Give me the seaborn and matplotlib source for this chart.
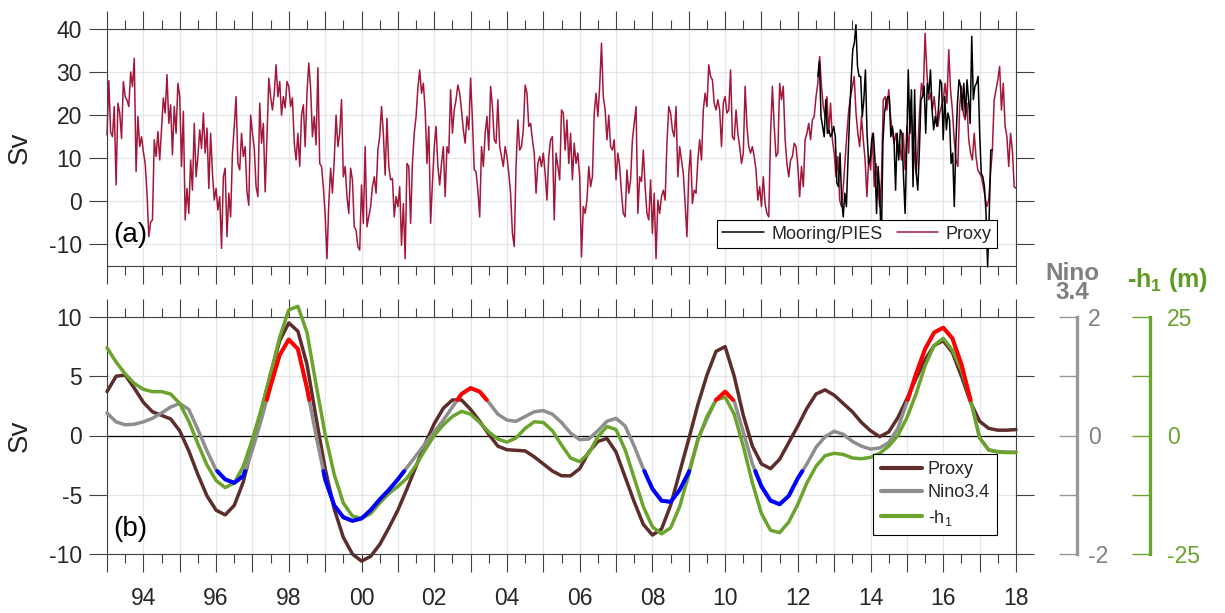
import numpy as np
import matplotlib
matplotlib.use("Agg")
import matplotlib.pyplot as plt
import seaborn as sns
from matplotlib.ticker import FixedLocator
from matplotlib.lines import Line2D

# ---------------- data ----------------
# (a) transport proxy, regular sampling from 1993.0 to 2018.0 (20 samples / yr)
proxy_start, proxy_end = 1993.0, 2018.0
proxy_sv = [
    15.4, 28, 16, 15, 22, 3.8, 22.8, 20.5, 14.6, 27.8, 24.3, 23.5, 22, 30, 26.7, 33.2, 6.9, 19.7, 12.7, 15,
    11.5, 8.8, 1.9, -8.2, -4.8, -4.3, 14.3, 10.4, 16.2, 9.6, 16.6, 24, 20.5, 29.4, 18.1, 22.4, 10.8, 22, 15.8, 27.4,
    24.3, 8.1, 20.9, -4.3, 3, -2.8, 9.6, 2.6, 18.1, 5.7, 10.4, 16.6, 12.3, 20.5, 11.2, 17, 3, 15.8, 6.5, 0.3,
    3, -2, 1.1, -10.9, 5.7, 7.7, -8.2, 1.9, -3.6, 11.2, 17.4, 24.3, 8.8, 7.3, 15.8, 10.4, 12.7, 2.2, -0.9, 20,
    15.8, 12.3, 3.4, 1.1, 22.8, 13.5, 18.1, 2.2, 15, 28.6, 24.3, 21.2, 25.1, 31.7, 24.3, 27.8, 20, 24.3, 21.7, 27.8,
    26.7, 22, 24, 13.5, 9.6, 15.8, 8.1, 20, 22.4, 12.7, 25.1, 32.1, 26.3, 15, 19.7, 13.1, 31, 8.8, 8.1, 3.4,
    -3.2, -13.3, -0.5, 7.7, 1.9, 9.6, 20, 12.7, 15.8, 23.6, 5.7, 8.1, 1.1, -2.8, 7.7, 5, -5.9, -6.7, -10.5, -11.3,
    3.8, -5.1, 12.7, -5.9, -3.6, -1.2, 3.4, 5.7, 1.9, 11.9, 15, 22, 15.8, 6.1, 19.3, 8.1, 5, 5.3, -3.6, 1.1,
    -1.2, 3.4, -10.2, -0.5, -13.3, 8.8, 8.1, -5.1, 8.8, 15.8, 19.7, 26.3, 30.5, 25.1, 27.4, 21.2, 8.8, 17.4, -5.1, 4.2,
    12.7, 17.4, 8.1, 3.8, 8.8, 12.7, 1.1, 12.7, 11.2, 25.9, 15.8, 21.2, 23.6, 27, 25.1, 21.2, 16.6, 13.5, 19.7, 16.6,
    28.6, 18.9, 7.3, 6.9, 2.6, -3.6, 12.7, 8.1, 15.8, 19.7, 11.9, 26.7, 22, 14.3, 13.5, 23.6, 12.7, 10.4, 8.1, 12.7,
    10.4, 6.5, 1.9, -7.4, -10.5, 8.1, 18.9, 11.9, 12.7, 16.6, 27, 25.1, 17.4, 18.1, 14.3, 11.2, 1.9, 8.8, 10.4, 8.1,
    11.2, 6.5, 0.3, 10.4, 14.3, 15, -4.3, 11.2, 8.1, 5, 21.2, 20.5, 11.9, 18.9, 8.8, 15.8, 5, 13.5, 8.8, 11.2,
    5.7, -12.9, -1.2, -2.8, 0.3, 8.1, 3.4, 5.7, 20.5, 25.1, 19.7, 26.7, 36.7, 24.3, 21.2, 14.3, 20, 12.7, 11.9, 14.3,
    5, 11.2, 8.1, 1.9, -2.8, -3.6, 7.3, 1.9, 5, 14.3, 18.1, 22, -2.8, 5.7, 4.6, 11.9, 3.4, -2.8, -4.3, 5,
    -7.4, 1.9, -13.3, 0.3, -2.8, 1.1, 2.6, 0.3, 13.5, 22, 20.5, 16.6, 15, 22, 5.7, 12.7, 9.6, 6.5, -0.5, -8.2,
    6.5, 11.9, -0.5, 2.6, 1.9, 9.6, 14.3, 9.6, 21.2, 25.1, 22, 31.7, 29, 28.2, 22.8, 21.2, 23.6, 21.2, 12.7, 22.8,
    24.3, 20.5, 21.2, 30.5, 15, 14.3, 21.2, 15.8, 12.7, 8.8, 11.2, 26.7, 17.4, 12.7, 11.2, 12.7, 10.4, 7.3, 0.3, 3.4,
    -1.2, 5.7, -0.5, -2.8, -3.6, 15.8, 26.7, 17.4, 10.4, 11.2, 27.4, 23.6, 26.7, 14.3, 8.8, 5.7, 9.6, 10.4, 13.5, 12.7,
    8.1, 1.1, 8.1, 3.4, 14.3, 15.8, 18.1, 14.3, 18.9, 19.7, 24.3, 27.4, 33.6, 26.7, 22, 19.7, 24.3, 15.8, 22.8, 14.3,
    11.2, 5.7, 10.4, 0.3, -1.2, 3.4, 9.6, 15.8, 21.2, 24.3, 26.7, 29, 20.5, 15.8, 12.7, 19.7, 14.3, 9.6, 1.1, 10.4,
    7.3, 15.8, 3.4, 8.8, 3.4, -1.2, 5, 23.6, 24.3, 21.2, 25.9, 19.7, 15.8, 13.5, 15.8, 11.9, 13.5, 9.6, 15.8, 7.3,
    17.4, 11.2, 23.6, 16.6, 11.2, 6.5, 11.9, 21.2, 27.4, 25.1, 39, 29.8, 23.6, 25.1, 21.2, 24.3, 19.7, 17.4, 20.5, 22,
    23.6, 27.4, 22.8, 35.2, 25.9, 21.2, 14.3, 9.6, 8.1, 22, 26.7, 20.5, 18.9, 22.8, 14.3, 11.2, 9.6, 15.8, 10.4, 7.3,
    6.5, 5.7, 3.4, 1.1, -1.2, 0.3, 6.5, 11.9, 23.6, 25.9, 28.2, 31.3, 21.2, 27.4, 17.4, 15, 8.1, 15.8, 11.9, 3.4,
    3.0,
]

# (a) mooring / PIES transport, regular sampling 2012.55 .. 2017.35
mooring_start, mooring_end = 2012.55, 2017.35
mooring_sv = [
    29, 32.5, 19.7, 17.4, 15, 23.6, 15.8, 16.6, 15, 15.8, 17.4, 15, 4.2, 3.4, 11.2, 0.3, -3.6, 1.9, -1.2, 9.6,
    19.7, 28.2, 35.2, 36.7, 41, 31.3, 29, 29, 19.7, 23.6, 30.5, 15.8, 8.8, 9.6, 14.3, 15.8, 9.6, -2.8, 8.1, 1.9,
    -10.5, 13.5, 20.5, 22.8, 24.3, 24.3, 15, 17.4, 14.3, 2.6, 15.8, 9.6, 16.6, 15.8, 5.7, -2.8, 12.7, 30.5, 15.8, 25.9,
    3.4, 25.9, 6.5, 2.6, 11.9, 23.6, 24.3, 26.7, 15.8, 27.4, 25.1, 30.5, 21.2, 16.6, 19.7, 17.4, 21.2, 28.2, 27.4, 14.3,
    24.3, 16.6, 20.5, 18.9, 8.8, 11.2, -1.2, 13.5, 22.8, 28.2, 26.7, 21.2, 27.4, 19.7, 28.2, 23.6, 18.1, 38.3, 23.6, 26.7,
    27.4, 29, 15.8, 6.5, 5.7, 3.4, -2.8, -15.2, -3.6, 11.9, 11.9,
]

# (b) low-passed series, quarterly samples 1993.00 .. 2018.00
lp_start, lp_step = 1993.0, 0.25
proxy_lp_sv = [
    3.7, 5.0, 5.1, 4.0, 2.8, 2.0, 1.7, 1.4, 0.4, -1.3, -3.3, -5.1, -6.3, -6.7, -5.9, -3.9, -0.8, 2.2, 5.2, 8.0,
    9.5, 8.8, 6.0, 1.5, -2.8, -6.2, -8.6, -10.0, -10.6, -10.2, -9.2, -7.8, -6.3, -4.5, -2.6, -0.7, 1.0, 2.3, 3.0, 3.0,
    2.2, 1.2, 0.1, -0.9, -1.2, -1.25, -1.3, -1.8, -2.4, -3.0, -3.4, -3.4, -2.8, -1.4, -0.5, -0.25, -1.4, -3.5, -5.6, -7.5,
    -8.4, -7.9, -5.9, -3.1, -0.3, 2.6, 5.1, 7.1, 7.5, 5.0, 1.7, -0.9, -2.4, -2.8, -2.0, -0.6, 0.8, 2.3, 3.5, 3.85,
    3.4, 2.7, 2.0, 1.1, 0.4, -0.1, 0.3, 1.5, 3.1, 4.8, 6.4, 7.6, 8.0, 7.0, 5.0, 2.8, 1.2, 0.6, 0.45, 0.45,
    0.5,
]
nino34_c = [
    0.38, 0.23, 0.18, 0.19, 0.23, 0.29, 0.38, 0.48, 0.54, 0.44, 0.10, -0.26, -0.58, -0.74, -0.80, -0.68, -0.24, 0.28, 0.84, 1.36,
    1.62, 1.46, 0.80, 0.0, -0.74, -1.18, -1.38, -1.44, -1.40, -1.26, -1.08, -0.92, -0.74, -0.54, -0.34, -0.14, 0.06, 0.26, 0.48, 0.70,
    0.80, 0.74, 0.56, 0.36, 0.26, 0.24, 0.32, 0.40, 0.42, 0.36, 0.22, 0.04, -0.07, -0.06, 0.08, 0.24, 0.29, 0.16, -0.18, -0.56,
    -0.90, -1.10, -1.12, -0.92, -0.62, -0.06, 0.28, 0.60, 0.74, 0.58, 0.06, -0.48, -0.86, -1.10, -1.16, -1.02, -0.72, -0.48, -0.20, -0.02,
    0.07, 0.02, -0.10, -0.18, -0.23, -0.21, -0.12, 0.12, 0.56, 1.04, 1.46, 1.74, 1.82, 1.64, 1.20, 0.60, -0.04, -0.24, -0.27, -0.28,
    -0.28,
]
neg_h1_m = [
    18.5, 15.5, 13.0, 11.0, 9.75, 9.25, 9.25, 8.75, 6.75, 3.0, -1.75, -6.25, -9.5, -11.0, -10.0, -6.5, -0.75, 5.75, 13.0, 20.75,
    26.5, 27.25, 21.75, 10.75, 0.25, -8.25, -14.25, -17.0, -17.5, -16.5, -14.25, -12.25, -10.75, -9.0, -6.25, -3.0, 0.0, 2.25, 4.0, 5.1,
    4.5, 2.75, 0.75, -0.75, -1.4, -0.5, 1.5, 2.9, 2.75, 1.0, -2.0, -4.75, -5.5, -3.75, -0.25, 1.9, 1.25, -3.0, -9.0, -15.0,
    -19.25, -20.75, -19.5, -15.0, -8.25, -1.0, 4.0, 7.5, 8.1, 4.5, -2.25, -10.0, -16.5, -20.0, -20.5, -18.25, -14.5, -10.0, -6.5, -4.25,
    -3.75, -4.0, -4.75, -4.9, -4.6, -3.75, -2.25, 0.0, 3.75, 8.75, 14.75, 19.0, 20.5, 18.0, 13.75, 7.5, -0.5, -3.1, -3.5, -3.6,
    -3.6,
]
nino_threshold = 0.6  # El Nino / La Nina highlight level (deg C)

years = list(range(1993, 2019))
year_labels = [f"{y % 100:02d}" if y % 2 == 0 else "" for y in years]

# ---------------- style ----------------
sns.set_style("ticks")
plt.rcParams['font.family'] = ['Liberation Sans', 'DejaVu Sans']
plt.rcParams['mathtext.fontset'] = 'custom'
plt.rcParams['mathtext.rm'] = 'Liberation Sans'
plt.rcParams['mathtext.it'] = 'Liberation Sans:italic'
plt.rcParams['mathtext.bf'] = 'Liberation Sans:bold'
plt.rcParams['axes.unicode_minus'] = False

C_PROXY_A = '#A3173B'
C_MOOR = '#000000'
C_BROWN = '#5C2D2B'
C_GRAY = '#8E8E8E'
C_GREEN = '#6BA42C'
C_AX = '#404040'
C_TXT = '#262626'
LW_LP = 2.5

W, H = 1225, 613
fig = plt.figure(figsize=(W / 100, H / 100), dpi=100)
L, R = 107, 1016
ax1 = fig.add_axes([L / W, 1 - 266 / H, (R - L) / W, 237 / H])
ax2 = fig.add_axes([L / W, 1 - 554 / H, (R - L) / W, 237 / H])

# ---------------- panel (a) ----------------
t_proxy = np.linspace(proxy_start, proxy_end, len(proxy_sv))
t_moor = np.linspace(mooring_start, mooring_end, len(mooring_sv))
sns.lineplot(x=t_proxy, y=proxy_sv, ax=ax1, color=C_PROXY_A, linewidth=1.1,
             estimator=None, sort=False, legend=False)
sns.lineplot(x=t_moor, y=mooring_sv, ax=ax1, color=C_MOOR, linewidth=1.1,
             estimator=None, sort=False, legend=False)
for ln in ax1.lines:
    ln.set_clip_on(False)
ax1.set_ylim(-15, 40)
ax1.set_yticks([-10, 0, 10, 20, 30, 40])
ax1.set_yticklabels(['-10', '0', '10', '20', '30', '40'])

# ---------------- panel (b) ----------------
t_lp = lp_start + lp_step * np.arange(len(proxy_lp_sv))
assert len(proxy_lp_sv) == len(nino34_c) == len(neg_h1_m) == 101

ax2.axhline(0, color='black', linewidth=0.9, zorder=1)
sns.lineplot(x=t_lp, y=proxy_lp_sv, ax=ax2, color=C_BROWN, linewidth=LW_LP,
             estimator=None, sort=False, legend=False, solid_joinstyle='round', solid_capstyle='round')
ax2.set_ylim(-10, 10)
ax2.set_yticks([-10, -5, 0, 5, 10])
ax2.set_yticklabels(['-10', '-5', '0', '5', '10'])

axn = ax2.twinx()
axn.set_ylim(-2, 2)
sns.lineplot(x=t_lp, y=nino34_c, ax=axn, color=C_GRAY, linewidth=LW_LP,
             estimator=None, sort=False, legend=False, solid_joinstyle='round', solid_capstyle='round')

axh = ax2.twinx()
axh.set_ylim(-25, 25)
sns.lineplot(x=t_lp, y=neg_h1_m, ax=axh, color=C_GREEN, linewidth=LW_LP,
             estimator=None, sort=False, legend=False, solid_joinstyle='round', solid_capstyle='round')

axr = ax2.twinx()
axr.set_ylim(-2, 2)
axr.axis('off')


def split_segments(t, v, thr, above):
    s = (v - thr) if above else (-thr - v)
    segs, cur = [], None
    for i in range(len(t)):
        if s[i] >= 0:
            if cur is None:
                cur = []
                if i > 0 and s[i - 1] < 0:
                    f = s[i - 1] / (s[i - 1] - s[i])
                    cur.append((t[i - 1] + f * (t[i] - t[i - 1]), v[i - 1] + f * (v[i] - v[i - 1])))
            cur.append((t[i], v[i]))
        else:
            if cur is not None:
                f = s[i - 1] / (s[i - 1] - s[i])
                cur.append((t[i - 1] + f * (t[i] - t[i - 1]), v[i - 1] + f * (v[i] - v[i - 1])))
                segs.append(np.array(cur))
                cur = None
    if cur is not None:
        segs.append(np.array(cur))
    return segs


nino_arr = np.array(nino34_c)
for seg in split_segments(t_lp, nino_arr, nino_threshold, True):
    sns.lineplot(x=seg[:, 0], y=seg[:, 1], ax=axr, color='#FF0000', linewidth=2.9,
                 estimator=None, sort=False, legend=False, solid_joinstyle='round')
for seg in split_segments(t_lp, nino_arr, nino_threshold, False):
    sns.lineplot(x=seg[:, 0], y=seg[:, 1], ax=axr, color='#0000FF', linewidth=2.9,
                 estimator=None, sort=False, legend=False, solid_joinstyle='round')
for a in (ax2, axn, axh, axr):
    for ln in a.lines:
        ln.set_clip_on(False)
axr.set_xlim(1993, 2018)

# side axes for Nino3.4 and -h1
for a, pos, col, lcol, ticks, labels, pad in (
        (axn, (1077 - L) / (R - L), '#999999', '#808080', [-2, -1, 0, 1, 2], ['-2', '', '0', '', '2'], 8),
        (axh, (1150 - L) / (R - L), C_GREEN, C_GREEN, [-25, -12.5, 0, 12.5, 25], ['-25', '', '0', '', '25'], 12)):
    for side in ('left', 'top', 'bottom'):
        a.spines[side].set_visible(False)
    a.spines['right'].set_position(('axes', pos))
    a.spines['right'].set_color(col)
    a.spines['right'].set_linewidth(2.4)
    a.set_yticks(ticks)
    a.set_yticklabels(labels)
    a.tick_params(axis='y', which='both', direction='in', length=13, width=1.0,
                  color=col, labelcolor=lcol, labelsize=16.5, pad=pad, right=True, left=False)
    a.set_ylabel('')

fig.text(1072 / W, 1 - 283 / H, 'Nino\n3.4', ha='center', va='center', fontsize=17.5,
         fontweight='bold', color='#7F7F7F', linespacing=0.8)
fig.text(1167 / W, 1 - 280 / H, r'-h$_\mathbf{1}$ (m)', ha='center', va='center', fontsize=18,
         fontweight='bold', color='#5E9B20')

# ---------------- common axes styling ----------------
for ax in (ax1, ax2):
    ax.set_xlim(1993, 2018)
    ax.xaxis.set_major_locator(FixedLocator(years))
    ax.xaxis.set_minor_locator(FixedLocator([y + 0.5 for y in years[:-1]]))
    ax.tick_params(axis='both', which='major', direction='out', length=13, width=0.8,
                   color=C_AX, labelcolor=C_TXT, labelsize=16.5)
    ax.tick_params(axis='x', which='minor', direction='out', length=6.5, width=0.8, color=C_AX)
    ax.tick_params(axis='x', which='both', top=True, bottom=True)
    ax.tick_params(axis='y', which='both', left=True, right=True, pad=5)
    ax.tick_params(axis='x', pad=11)
    ax.grid(True, which='major', color='#E6E6E6', linewidth=0.9)
    ax.set_axisbelow(True)
    for sp in ax.spines.values():
        sp.set_color(C_AX)
        sp.set_linewidth(0.8)
    ax.set_ylabel('Sv', fontsize=20, color=C_TXT)
    ax.yaxis.set_label_coords(-0.082, 0.5)

ax1.set_xticklabels([''] * len(years))
ax2.set_xticklabels(year_labels)
ax1.set_xlabel('')
ax2.set_xlabel('')

ax1.text(0.0066, 0.13, '(a)', transform=ax1.transAxes, fontsize=20, ha='left', va='center', color='black')
ax2.text(0.0066, 0.105, '(b)', transform=ax2.transAxes, fontsize=20, ha='left', va='center', color='black')

# legends
h_top = [Line2D([], [], color=C_MOOR, linewidth=1.1), Line2D([], [], color=C_PROXY_A, linewidth=1.1)]
leg1 = ax1.legend(h_top, ['Mooring/PIES', 'Proxy'], loc='lower right', bbox_to_anchor=(0.979, 0.076),
                  ncol=2, fontsize=13, frameon=True, fancybox=False, framealpha=1, edgecolor='black',
                  borderaxespad=0, handlelength=2.3, columnspacing=0.8, handletextpad=0.4, borderpad=0.3)
leg1.get_frame().set_linewidth(0.8)

h_bot = [Line2D([], [], color=C_BROWN, linewidth=3), Line2D([], [], color=C_GRAY, linewidth=3),
         Line2D([], [], color=C_GREEN, linewidth=3)]
leg2 = axr.legend(h_bot, ['Proxy', 'Nino3.4', '-h$_1$'], loc='lower right', bbox_to_anchor=(0.979, 0.080),
                  fontsize=13, frameon=True, fancybox=False, framealpha=1, edgecolor='black',
                  borderaxespad=0, handlelength=2.3, handletextpad=0.3, labelspacing=0.35, borderpad=0.4)
leg2.get_frame().set_linewidth(0.8)

fig.savefig('out.png', dpi=100)
